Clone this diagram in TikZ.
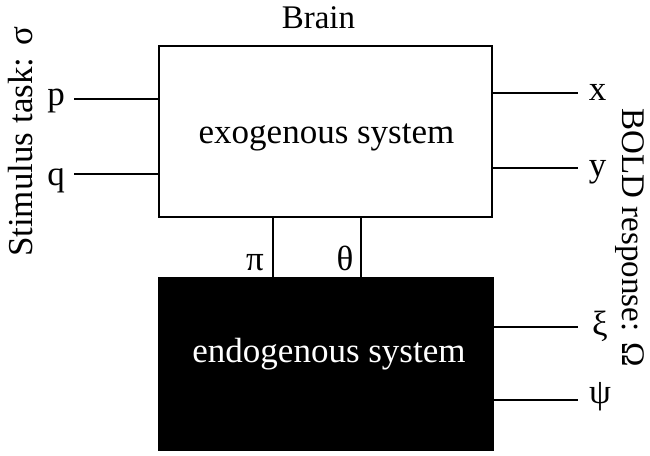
\documentclass[tikz,border=0pt]{standalone}
\usepackage{fontspec}
\setmainfont{Liberation Serif}
\begin{document}
\begin{tikzpicture}[x=1pt,y=-1pt,
  lbl/.style={font=\fontsize{35}{40}\selectfont,inner sep=0pt},
  wire/.style={line width=2.6pt},
  boxw/.style={draw,line width=2.6pt,inner sep=0pt}]
\useasboundingbox (0,0) rectangle (650,455);
\node[boxw,minimum width=333pt,minimum height=171pt] (exo) at (325.5,131.5) {};
\node[lbl,anchor=base] (exotxt) at (326.5,143) {exogenous system};
\node[boxw,fill=black,minimum width=334pt,minimum height=172pt] (endo) at (326,364) {};
\node[lbl,anchor=base,text=white] (endotxt) at (329,362) {endogenous system};
\node[lbl,anchor=base,font=\fontsize{33}{40}\selectfont] (brain) at (318.5,28) {Brain};
% inputs
\node[lbl,anchor=base] (p) at (56,105) {p};
\node[lbl,anchor=base] (q) at (56,185) {q};
\coordinate (pL) at (74,99);
\coordinate (qL) at (74,174);
\draw[wire] (pL) -- (pL -| exo.west);
\draw[wire] (qL) -- (qL -| exo.west);
% outputs
\node[lbl,anchor=base] (x) at (597.5,100) {x};
\node[lbl,anchor=base] (y) at (597.5,176) {y};
\node[lbl] (xi) at (600,326) {ξ};
\node[lbl] (psi) at (600,397) {ψ};
\coordinate (xR) at (578,93);
\coordinate (yR) at (578,168);
\coordinate (xiR) at (578,327);
\coordinate (psiR) at (578,400);
\draw[wire] (xR -| exo.east) -- (xR);
\draw[wire] (yR -| exo.east) -- (yR);
\draw[wire] (xiR -| endo.east) -- (xiR);
\draw[wire] (psiR -| endo.east) -- (psiR);
% couplings
\coordinate (piX) at (273,0);
\coordinate (thX) at (361,0);
\draw[wire] (piX |- exo.south) -- (piX |- endo.north);
\draw[wire] (thX |- exo.south) -- (thX |- endo.north);
\node[lbl,anchor=base] (pi) at (255,270) {π};
\node[lbl,anchor=base] (th) at (345,270) {θ};
% side labels
\node[lbl,rotate=90,anchor=base] (stim) at (32,142) {Stimulus task: σ};
\node[lbl,rotate=-90,anchor=base,font=\fontsize{33}{40}\selectfont] (bold) at (622,238) {BOLD response: Ω};
\end{tikzpicture}
\end{document}
